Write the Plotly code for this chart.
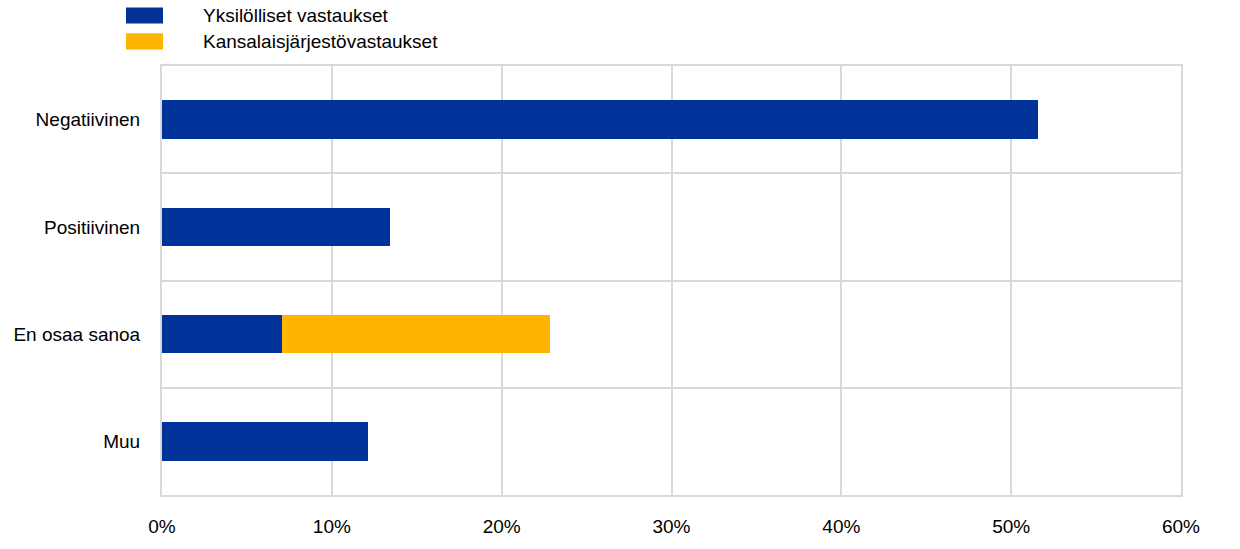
import plotly.graph_objects as go

categories = ["Negatiivinen", "Positiivinen", "En osaa sanoa", "Muu"]
individual = [51.6, 13.4, 7.05, 12.1]
ngo = [0, 0, 15.8, 0]
series_names = ["Yksilölliset vastaukset", "Kansalaisjärjestövastaukset"]
colors = ["#003299", "#FFB400"]
x_ticks = [0, 10, 20, 30, 40, 50, 60]

fig = go.Figure()
fig.add_trace(go.Bar(y=categories, x=individual, orientation="h", name=series_names[0],
                     marker=dict(color=colors[0], line=dict(width=0)), width=0.357))
fig.add_trace(go.Bar(y=categories, x=ngo, orientation="h", name=series_names[1],
                     marker=dict(color=colors[1], line=dict(width=0)), width=0.357))

W, H = 1240, 549
ml, mt = 162, 66
mr = W - 1181
mb = H - 506
pw, ph = W - ml - mr, H - mt - mb

def px(xs):
    return (xs - ml) / pw

def py(ys):
    return 1 - (ys - mt) / ph

shapes = []
annotations = []
for i, (name, c) in enumerate(zip(series_names, colors)):
    y0 = 6 + i * 26.5
    shapes.append(dict(type="rect", xref="paper", yref="paper",
                       x0=px(126), x1=px(163), y0=py(y0 + 16.5), y1=py(y0),
                       fillcolor=c, line=dict(width=0)))
    annotations.append(dict(text=name, xref="paper", yref="paper", x=px(201), y=py(y0 + 8),
                            xanchor="left", yanchor="middle", showarrow=False,
                            font=dict(size=19, color="#000000")))

fig.update_layout(
    barmode="stack",
    width=W, height=H,
    margin=dict(l=ml, r=mr, t=mt, b=mb),
    paper_bgcolor="white", plot_bgcolor="white",
    showlegend=False,
    font=dict(family="Liberation Sans, Arial, sans-serif", size=19, color="#000000"),
    shapes=shapes, annotations=annotations,
    xaxis=dict(range=[0, 60], tickvals=x_ticks, ticktext=[f"{v}%" for v in x_ticks],
               showgrid=True, gridcolor="#d9d9d9", gridwidth=2, zeroline=False,
               showline=True, linecolor="#d9d9d9", linewidth=2, mirror=True,
               ticks="", ticklabelstandoff=13),
    yaxis=dict(categoryorder="array", categoryarray=categories[::-1],
               tickson="boundaries", showgrid=True, gridcolor="#d9d9d9", gridwidth=2,
               showline=True, linecolor="#d9d9d9", linewidth=2, mirror=True,
               ticks="", ticklabelstandoff=16),
)

post = (
    "document.body.style.margin='0';"
    "document.body.style.overflow='hidden';"
    "var d=document.getElementsByClassName('plotly-graph-div')[0];"
    "d.style.position='fixed';d.style.left='0px';d.style.top='0px';"
)
fig.write_html("out.html", config={"displayModeBar": False}, post_script=post)
